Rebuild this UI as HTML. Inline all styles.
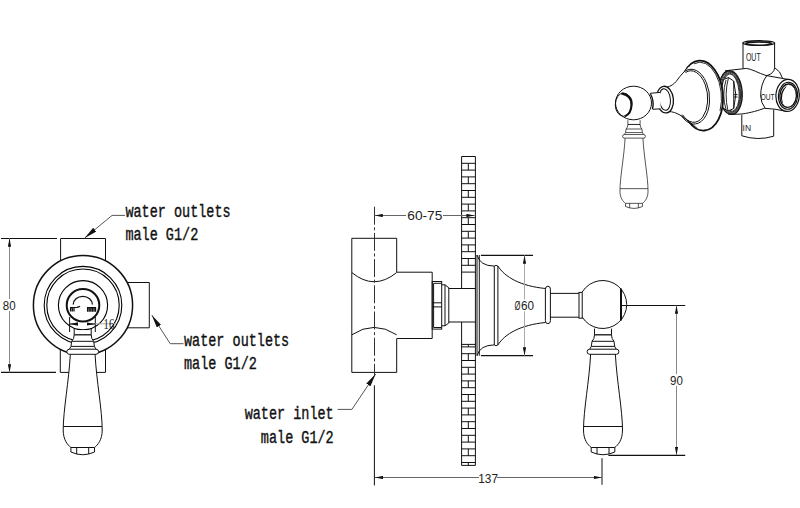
<!DOCTYPE html>
<html><head><meta charset="utf-8">
<style>
html,body{margin:0;padding:0;background:#fff;width:800px;height:508px;overflow:hidden;}
svg{display:block;}
.t{font-family:"Liberation Mono",monospace;font-size:13.5px;fill:#111;stroke:#111;stroke-width:0.3px;}
.d{font-family:"Liberation Sans",sans-serif;font-size:12.6px;fill:#222;}
</style></head><body>
<svg width="800" height="508" viewBox="0 0 800 508">
<defs>
<marker id="ah" viewBox="0 0 10 4" refX="10" refY="2" markerWidth="8.2" markerHeight="3.6" markerUnits="userSpaceOnUse" orient="auto-start-reverse"><path d="M0,0 L10,2 L0,4 z" fill="#111"/></marker>
<marker id="ah2" viewBox="0 0 13 5" refX="13" refY="2.5" markerWidth="13" markerHeight="5" markerUnits="userSpaceOnUse" orient="auto-start-reverse"><path d="M0,0 L13,2.5 L0,5 z" fill="#111"/></marker>
<g id="handle" fill="none" stroke="#111" stroke-width="1" style="vector-effect:non-scaling-stroke">
  <path d="M-8.5,330.2 H8.5 V334.8 Q8.5,339 11,341.3 L11.7,346.4 L13.3,349.2 A2.6,2.55 0 0 1 13.3,354.3 H12.4 C13.6,380 19.5,410 19.5,430 C19.5,440 15,445 11.8,447.5 H-11.8 C-15,445 -19.5,440 -19.5,430 C-19.5,410 -13.6,380 -12.4,354.3 H-13.3 A2.6,2.55 0 0 1 -13.3,349.2 L-11.7,346.4 L-11,341.3 Q-8.5,339 -8.5,334.8 Z" fill="#fff" stroke="none"/>
  <!-- neck -->
  <path d="M-8.5,328.6 L-8.5,334.8 M8.5,328.6 L8.5,334.8"/>
  <path d="M-8.5,334.8 L8.5,334.8" stroke-width="1.3"/>
  <path d="M-8.5,334.8 Q-8.5,339 -11,341.3 L-11.7,346.4 L-13.3,349.2 M8.5,334.8 Q8.5,339 11,341.3 L11.7,346.4 L13.3,349.2"/>
  <path d="M-11,341.3 L11,341.3 M-11.7,346.4 L11.7,346.4"/>
  <path d="M-13.3,349.2 L13.3,349.2 A2.6,2.55 0 0 1 13.3,354.3 L-13.3,354.3 A2.6,2.55 0 0 1 -13.3,349.2 Z"/>
  <!-- body -->
  <path d="M-12.4,354.3 C-13.6,380 -19.5,410 -19.5,430 C-19.5,440 -15,445 -11.8,447.5 L11.8,447.5 C15,445 19.5,440 19.5,430 C19.5,410 13.6,380 12.4,354.3"/>
  <path d="M-19.3,426.5 L19.3,426.5"/>
  <!-- cap -->
  <path d="M-11.8,447.5 L-11.8,452 Q0,457.5 11.8,452 L11.8,447.5 M-6,447.5 L-6,454 M6,447.5 L6,454"/>
</g>
</defs>
<rect width="800" height="508" fill="#fff"/>

<!-- ============ FRONT VIEW (left) ============ -->
<g fill="none" stroke="#111" stroke-width="1">
  <!-- dim 80 -->
  <path d="M1,238.5 L57,238.5 M1,372.4 L56,372.4" stroke-width="1.2"/>
  <path d="M9.5,238.5 L9.5,299 M9.5,311 L9.5,372.5" stroke="#888" marker-start="url(#ah)" marker-end="url(#ah)"/>
  <!-- top box -->
  <path d="M60.6,261 L60.6,238.5 L105.5,238.5 L105.5,261"/>
  <!-- bottom box -->
  <path d="M60.3,349.5 L60.3,372.4 L105.5,372.4 L105.5,349.5"/>
  <!-- right box -->
  <path d="M127,282.5 L149.3,282.5 L149.3,327.8 L127,327.8"/>
  <!-- circles -->
  <circle cx="83" cy="305.2" r="49.6" stroke-width="1.5" fill="#fff"/>
  <circle cx="83" cy="305.2" r="38.8" stroke="#000" stroke-width="1.1"/>
  <circle cx="83" cy="305.2" r="36.2" stroke="#000" stroke-width="1.1"/>
  <circle cx="83" cy="305.2" r="24.6" stroke="#000" stroke-width="1.1"/>
  <circle cx="83" cy="305.2" r="16.3" stroke-width="2"/>
  <!-- arc symbol -->
  <path d="M73.2,304.5 A9.6,8.2 0 0 1 92.4,304.5" stroke-width="1.3"/>
  <path d="M70,307.7 L77,307.4 Q79,307.2 80,306.3 M70.6,307.5 L70.6,311.5 M72.3,307.5 L72.3,311.5 M74,307.5 L74,311.5" stroke-width="1.3"/>
  <path d="M87,307.6 L96,307.6 M87.6,307.6 L87.6,311.8 M89.2,307.6 L89.2,311.8 M90.8,307.6 L90.8,311.8 M92.4,307.6 L92.4,311.8 M94,307.6 L94,311.8 M95.5,307.6 L95.5,311.8" stroke-width="1.3"/>
  <!-- dim 16 -->
  <path d="M69.6,317 L69.6,332 M95.3,317 L95.3,332"/>
  <path d="M78,324 L69.8,324" marker-end="url(#ah)"/>
  <path d="M87,324 L95.1,324" marker-end="url(#ah)"/>
  <path d="M95.3,323.8 L116,323.8" stroke="#aaa"/>
  <!-- leaders -->
  <path d="M84.7,238 L112.1,215.4 L125,215.4" stroke="#555" marker-start="url(#ah2)"/>
  <path d="M151.9,315.2 L170.2,343.7 L183.5,343.7" stroke="#555" marker-start="url(#ah2)"/>
</g>
<use href="#handle" transform="translate(82.7,0)"/>
<rect x="2" y="300" width="14" height="10.5" fill="#fff"/>
<text class="d" x="9.2" y="309.8" text-anchor="middle" textLength="12.8" lengthAdjust="spacingAndGlyphs">80</text>
<text x="103.6" y="328.7" style="font-family:'Liberation Serif',serif;font-size:13.6px;fill:#222" textLength="10.6" lengthAdjust="spacingAndGlyphs">16</text>
<text class="t" transform="translate(125.4,217) scale(1,1.3)">water outlets</text>
<text class="t" transform="translate(125.4,240.2) scale(1,1.3)">male G1/2</text>
<text class="t" transform="translate(184,345.6) scale(1,1.3)">water outlets</text>
<text class="t" transform="translate(184,369) scale(1,1.3)">male G1/2</text>

<!-- ============ SIDE VIEW (middle) ============ -->
<g fill="none" stroke="#111" stroke-width="1">
  <!-- wall -->
  <path d="M461.6,156.5V288.5M461.6,322V465.4M475.4,156.5V465.4M461.6,156.5H475.4M461.6,163.3H475.4M461.6,170.1H475.4M461.6,176.9H475.4M461.6,183.7H475.4M461.6,190.5H475.4M461.6,197.3H475.4M461.6,204.1H475.4M461.6,210.9H475.4M461.6,217.7H475.4M461.6,224.5H475.4M461.6,231.3H475.4M461.6,238.1H475.4M461.6,244.9H475.4M461.6,251.7H475.4M461.6,258.5H475.4M461.6,265.3H475.4M461.6,272.1H475.4M461.6,346.9H475.4M461.6,353.7H475.4M461.6,360.5H475.4M461.6,367.3H475.4M461.6,374.1H475.4M461.6,380.9H475.4M461.6,387.7H475.4M461.6,394.5H475.4M461.6,401.3H475.4M461.6,408.1H475.4M461.6,414.9H475.4M461.6,421.7H475.4M461.6,428.5H475.4M461.6,435.3H475.4M461.6,442.1H475.4M461.6,448.9H475.4M461.6,455.7H475.4M461.6,462.5H475.4M461.6,344.4H475.4M461.6,465.4H475.4M468.3,163.3V170.1M468.3,176.9V183.7M468.3,190.5V197.3M468.3,204.1V210.9M468.3,217.7V224.5M468.3,231.3V238.1M468.3,244.9V251.7M468.3,258.5V265.3M468.3,344.4V346.9M468.3,353.7V360.5M468.3,367.3V374.1M468.3,380.9V387.7M468.3,394.5V401.3M468.3,408.1V414.9M468.3,421.7V428.5M468.3,435.3V442.1M468.3,448.9V455.7M468.3,462.5V465.4"/>
  <!-- vertical body -->
  <path d="M396.7,272.2 L396.7,238.3 L351.8,238.3 L351.8,372.4 L396.7,372.4 L396.7,338.7"/>
  <path d="M351.8,272.5 Q374,291 396.7,272.5"/>
  <path d="M351.8,334.8 Q374,320 396.7,334.8"/>
  <!-- horizontal body -->
  <path d="M396.7,272.2 L432.2,272.2 L432.2,338.5 L396.7,338.5"/>
  <!-- nut -->
  <rect x="432.2" y="281.5" width="9.5" height="47.6"/>
  <path d="M433.6,283.3 L441.7,283.3 M433.6,283.3 L433.6,327.5 L441.7,327.5 M432.2,302.8 L441.7,302.8 M432.2,306.9 L441.7,306.9"/>
  <path d="M441.7,284.8 L445,284.8 L448.8,287.7 L448.8,323 L445,325.8 L441.7,325.8 M445,284.8 L445,325.8"/>
  <!-- shaft through wall -->
  <path d="M448.8,288.5 L475.4,288.5 M448.8,322 L475.4,322"/>
  <!-- flange -->
  <path d="M477,255 L477,355.7 M479.3,255 L479.3,355.7"/>
  <path d="M477,255 Q480,266 494.3,266.1 L494.3,344.9 Q480,345 477,355.7"/>
  <path d="M494.3,266.1 Q496,264.5 497.9,266.1 L497.9,344.9 Q496,346.5 494.3,344.9"/>
  <path d="M497.9,266.1 C505,277 520,286 545.5,288.5 M497.9,344.9 C505,334 520,325 545.5,322.5"/>
  <!-- ring -->
  <rect x="545.4" y="286.2" width="5" height="37.5" rx="2.5" ry="3"/>
  <!-- shaft -->
  <path d="M550.4,293.4 L579,293.4 M550.4,317.2 L579,317.2"/>
  <rect x="579" y="292.4" width="3.2" height="25.8"/>
  <!-- ball -->
  <path d="M582.2,292 A24,24 0 1 1 582.2,317" />
  <path d="M621,288.6 L621,320.4" stroke-width="2"/>
  <!-- dims -->
  <path d="M374.5,206.7 L374.5,376" stroke-dasharray="18 2.6 3 2.6" stroke="#333"/>
  <path d="M374.4,385.3 L374.4,485.4"/>
  <path d="M406,215.5 L374.6,215.5" stroke="#666" marker-end="url(#ah)"/>
  <path d="M443,215.5 L474.6,215.5" stroke="#666" marker-end="url(#ah)"/>
  <path d="M480.9,255.3 L533,255.3 M480.9,355.7 L533,355.7" stroke-width="1.3"/>
  <path d="M524.5,299.5 L524.5,255.5" stroke="#aaa" marker-end="url(#ah)"/>
  <path d="M524.5,311.5 L524.5,355.5" stroke="#aaa" marker-end="url(#ah)"/>
  <path d="M620,305.5 L685.2,305.5 M608.4,455.3 L685.2,455.3" stroke-width="1.2"/>
  <path d="M676.5,374 L676.5,305.6" stroke="#888" marker-end="url(#ah)"/>
  <path d="M676.5,386 L676.5,455" stroke="#888" marker-end="url(#ah)"/>
  <path d="M602,458.2 L602,484.8"/>
  <path d="M479,477.5 L374.8,477.5" stroke="#666" marker-end="url(#ah)"/>
  <path d="M497,477.5 L601.8,477.5" stroke="#666" marker-end="url(#ah)"/>
  <!-- inlet leader -->
  <path d="M375.6,374.1 L351.9,409.4 L337.6,409.4" stroke="#555" marker-start="url(#ah2)"/>
</g>
<use href="#handle" transform="translate(603,0)"/>
<text class="d" x="424.8" y="219.9" text-anchor="middle" textLength="35" lengthAdjust="spacingAndGlyphs">60-75</text>
<text class="d" transform="translate(514.4,309.8) scale(0.6,1)">Ø</text><text class="d" x="520.9" y="309.8" textLength="13" lengthAdjust="spacingAndGlyphs">60</text>
<text class="d" x="676.4" y="384.8" text-anchor="middle" textLength="12.8" lengthAdjust="spacingAndGlyphs">90</text>
<text class="d" x="488.15" y="482.5" text-anchor="middle" textLength="19.7" lengthAdjust="spacingAndGlyphs">137</text>
<text class="t" transform="translate(333.7,418.9) scale(1,1.3)" text-anchor="end">water inlet</text>
<text class="t" transform="translate(333.7,443.2) scale(1,1.3)" text-anchor="end">male G1/2</text>

<!-- ============ 3D VIEW (top right) ============ -->
<g fill="none" stroke="#111" stroke-width="1">
  <!-- top pipe -->
  <path d="M743,43 L743,68.4 M774.6,43 L774.6,67.6 Q774.3,73.5 766.8,75.6"/>
  <ellipse cx="758.85" cy="43.05" rx="15.85" ry="2.3" stroke-width="1.3" fill="#fff"/>
  <ellipse cx="758.7" cy="43.6" rx="12.9" ry="1.6" stroke-width="1.5" fill="#fff"/>
  <!-- body -->
  <path d="M725,70.8 L746.3,68.4 C752,69 758,73 766,75.5 L788.5,79.5"/>
  <path d="M774.6,67.6 Q780.5,71 782.5,78.2"/>
  <path d="M728.5,114.5 L742,114 C752,112.5 758,110.5 764.4,108.3 L775,109.2 L786.2,111.3"/>
  <!-- side outlet -->
  <path d="M766.8,75.6 Q760.5,84 760.7,96 Q761,103 765,108"/>
  <ellipse cx="787.6" cy="95.4" rx="11.7" ry="16" transform="rotate(4 787.6 95.4)" fill="#fff" stroke-width="1.2"/>
  <ellipse cx="788" cy="95.8" rx="9.6" ry="13.5" transform="rotate(4 788 95.8)" stroke-width="1.1"/>
  <ellipse cx="788.2" cy="95.7" rx="8.3" ry="11.7" transform="rotate(4 788.2 95.7)" stroke-width="1.4"/>
  <path d="M786,86.5 Q779.5,94 782.3,102.8 M784,88.5 Q780.5,93 781.5,99" stroke-width="1"/>
  <path d="M794.5,88 L795.5,90 M795.5,92 L796.2,94 M795.8,97 L796.2,99 M795.3,101.5 L795.8,103.5" stroke-width="0.8" stroke="#555"/>
  <!-- IN pipe -->
  <path d="M741.8,115 L741.8,135.8 Q758,141 773.7,136.2 L773.7,109.6"/>
  <!-- nut -->
  <ellipse cx="730.50" cy="92.6" rx="11.70" ry="21.90" transform="rotate(-4 730.50 92.6)" stroke-width="1.3" fill="#fff"/>
  <ellipse cx="730.62" cy="92.6" rx="10.80" ry="21.10" transform="rotate(-4 730.62 92.6)" stroke-width="0.8"/>
  <ellipse cx="730.74" cy="92.6" rx="9.90" ry="20.30" transform="rotate(-4 730.74 92.6)" stroke-width="0.8"/>
  <ellipse cx="730.86" cy="92.6" rx="9.00" ry="19.50" transform="rotate(-4 730.86 92.6)" stroke-width="0.8"/>
  <ellipse cx="730.98" cy="92.6" rx="8.10" ry="18.70" transform="rotate(-4 730.98 92.6)" stroke-width="0.8"/>
  <path d="M723.5,79.5 L728.5,77.6 L733.7,81 L735.8,94.5 L733.7,108.6 L728,111 L723,108 Q719.5,94 723.5,79.5 Z" fill="#fff" stroke-width="1"/>
  <path d="M733.7,81 L733.7,108.6 M733.7,94.6 L737.5,94.6 M733.7,97 L737.5,97 M726,80 Q721.5,95 726,109.5 M728.5,77.6 Q724,94 728,111" stroke-width="0.9"/>
  <!-- flange -->
  <ellipse cx="701.7" cy="95.6" rx="21.2" ry="35" transform="rotate(-4.6 701.7 95.6)" fill="#fff" stroke-width="1.8"/>
  <path d="M694.1,63.8 A19.6,33.4 -4.6 0 1 720.0,110.9" stroke-width="0.9"/>
  <!-- bell -->
  <path d="M666.8,87.2 C671,86.3 674,84 676.3,81.3 C678.5,78.5 681,74.5 684.1,71.8 C685.5,70.2 687,68 688.7,66.2 L699,129.8 C697,128.5 694.5,126 692,124 C688,121 684,117.5 680,115 C676,113 673,111.5 668,111.5 Z" fill="#fff" stroke="none"/>
  <path d="M666.8,87.2 C671,86.3 674,84 676.3,81.3 C678.5,78.5 681,74.5 684.1,71.8 C685.5,70.2 687,68 688.7,66.2"/>
  <path d="M668,111.5 C673,111.5 676,113 680,115 C684,117.5 688,121 692,124 C694.5,126 697,128.5 699,129.8"/>
  <path d="M684.1,71.8 A16.9,27.5 -5 1 1 681.2,115.3"/>
  <path d="M685.5,72.5 A15.3,25.8 -5 1 1 682.4,114.6"/>
  <!-- collar ring -->
  <ellipse cx="665" cy="99.6" rx="8.4" ry="13.4" transform="rotate(-6 665 99.6)" fill="#fff" stroke-width="1.3"/>
  <ellipse cx="664.8" cy="99.6" rx="5.6" ry="10.8" transform="rotate(-6 664.8 99.6)"/>
  <!-- shaft -->
  <path d="M649.9,93.3 L660.5,92.4 L660.5,109 L652.6,109.3 Z" fill="#fff" stroke="none"/>
  <path d="M649.9,93.3 L660.5,92.4 M652.6,109.3 L660.5,108.8"/>
  <!-- ball -->
  <ellipse cx="633.5" cy="103" rx="18" ry="16.8" fill="#fff"/>
  <path d="M650.5,94 Q654.5,101 652.5,109" stroke-width="1.4"/>
  <ellipse cx="623.5" cy="104.7" rx="8.2" ry="11.6"/>
  <path d="M621.5,93.4 Q632.5,96 631.5,105 Q631,114 625,116.2" stroke-width="2.2"/>
</g>
<use href="#handle" transform="translate(634,-109.9) scale(0.72,0.7)"/>
<text x="745.9" y="60.7" style="font-family:'Liberation Sans',sans-serif;font-size:10px;fill:#222" textLength="14.8" lengthAdjust="spacingAndGlyphs">OUT</text>
<text x="760.7" y="99.7" style="font-family:'Liberation Sans',sans-serif;font-size:9px;fill:#222" textLength="13.8" lengthAdjust="spacingAndGlyphs">OUT</text>
<text x="742.6" y="130.9" style="font-family:'Liberation Sans',sans-serif;font-size:9.5px;fill:#222" textLength="8.5" lengthAdjust="spacingAndGlyphs">IN</text>
</svg>
</body></html>
